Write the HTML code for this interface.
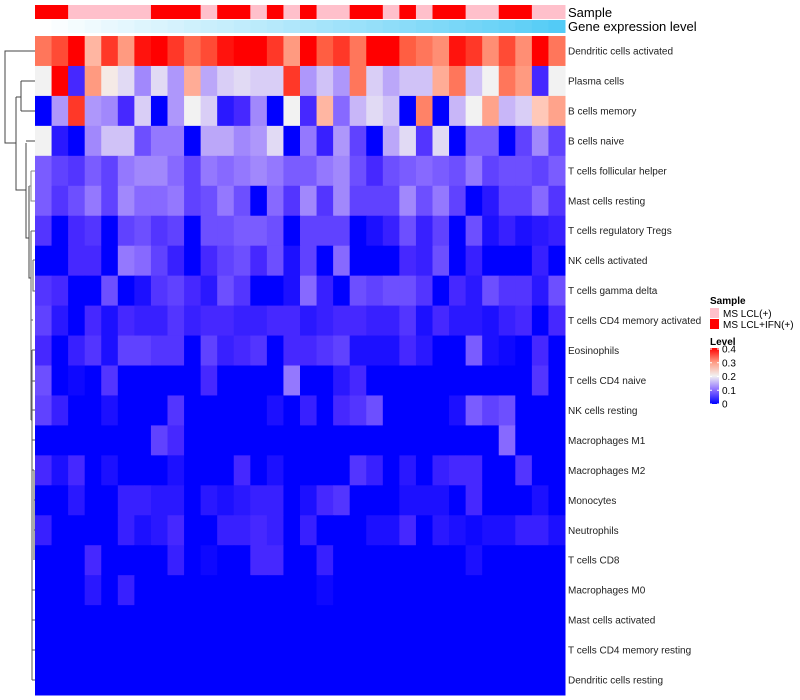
<!DOCTYPE html>
<html><head><meta charset="utf-8"><style>
body{margin:0;background:#fff;}
svg{display:block;font-family:"Liberation Sans",sans-serif;}
</style></head><body>
<svg id="chart" width="800" height="700">
<g id="dendro" fill="none" stroke="#444" stroke-width="1">
<path d="M35,51 H5 V143 H16"/>
<path d="M16,97 V190 H26"/>
<path d="M21,81 H35 M21,111 H35 M21,81 V111 M16,97 H21"/>
<path d="M26,141 H35 M26,143 V238 H29"/>
<path d="M29,186 V278 H31"/>
<path stroke="#888" d="M31,171 H35 M31,171 V201 H35 M31,186 H29"/>
<path stroke="#666" d="M31,278 V420 M31,231 H35 M31,231 V320 H33 M33,260 H35 M33,260 V291 H35"/>
<path stroke="#555" d="M31,420 H32 M32,350 V680 M32,350 H35 M32,381 H35 M32,410 H35 M32,440 H35 M32,470 H34 M34,470 V560 M34,500 H35 M34,530 H35 M32,590 H35 M32,620 H35 M32,650 H35 M32,680 H35"/>
</g>
<g id="samplebar"></g>
<g id="genebar"></g>
<g id="cells"></g>
<g id="rowlabels" font-size="10" fill="#222"></g>
<text x="568" y="17" font-size="13" fill="#000">Sample</text>
<text x="568" y="31" font-size="13" fill="#000">Gene expression level</text>
<g font-size="10">
<text x="710" y="304" font-weight="bold" font-size="10">Sample</text>
<rect x="710" y="308" width="9" height="10" fill="#FFC0CB"/>
<text x="723" y="317">MS LCL(+)</text>
<rect x="710" y="319" width="9" height="10" fill="#FF0000"/>
<text x="723" y="328">MS LCL+IFN(+)</text>
</g>
<g font-size="10">
<defs><linearGradient id="lg" x1="0" y1="1" x2="0" y2="0">
<stop offset="0" stop-color="#0000FF"/><stop offset="0.25" stop-color="#8C6EFF"/><stop offset="0.5" stop-color="#F2F2F2"/><stop offset="0.75" stop-color="#FF9A82"/><stop offset="1" stop-color="#FF0000"/></linearGradient></defs>
<text x="710" y="345" font-weight="bold">Level</text>
<rect x="710" y="348" width="9" height="56" fill="url(#lg)"/>
<g id="legticks"></g>
</g>
</svg>
<script>
const rowNames=["Dendritic cells activated","Plasma cells","B cells memory","B cells naive","T cells follicular helper","Mast cells resting","T cells regulatory  Tregs","NK cells activated","T cells gamma delta","T cells CD4 memory activated","Eosinophils","T cells CD4 naive","NK cells resting","Macrophages M1","Macrophages M2","Monocytes","Neutrophils","T cells CD8","Macrophages M0","Mast cells activated","T cells CD4 memory resting","Dendritic cells resting"];
const sampleGroup=[1,1,0,0,0,0,0,1,1,1,0,1,1,0,1,0,1,0,0,1,1,0,1,0,1,1,0,0,1,1,0,0];
const geneLevel=[0.0,0.03,0.06,0.09,0.12,0.15,0.18,0.2,0.23,0.26,0.29,0.31,0.34,0.37,0.4,0.43,0.46,0.49,0.52,0.55,0.58,0.61,0.64,0.67,0.7,0.73,0.76,0.79,0.82,0.86,0.9,0.94];
const legendTicks=[0,0.1,0.2,0.3,0.4];
const r1=[.33,.36,.4,.27,.37,.3,.39,.4,.37,.34,.36,.39,.4,.4,.37,.3,.4,.35,.37,.33,.4,.4,.35,.33,.31,.39,.37,.31,.36,.31,.4,.33];
const r2=[.2,.4,.05,.3,.21,.18,.12,.18,.13,.28,.14,.17,.18,.17,.17,.37,.13,.16,.13,.33,.17,.14,.16,.16,.28,.33,.16,.2,.33,.3,.05,.2];
const r3=[0,.13,.37,.13,.12,.05,.17,0,.13,.2,.17,.03,.05,.12,0,.2,.05,.27,.1,.15,.18,.16,0,.32,0,.15,.2,.29,.15,.17,.25,.29];
const r4=[.2,.03,0,.12,.16,.16,.08,.11,.11,0,.14,.14,.12,.13,.18,0,.11,.04,.13,.07,0,.14,.18,.06,.18,0,.09,.09,0,.07,.12,.07];
const r5=[.09,.07,.06,.09,.07,.11,.12,.12,.1,.07,.11,.1,.11,.12,.11,.09,.09,.11,.12,.08,.05,.08,.09,.1,.09,.08,.11,.07,.08,.08,.07,.09];
const r6=[.09,.06,.08,.11,.07,.12,.1,.1,.11,.07,.08,.11,.08,0,.1,.06,.12,.06,.12,.07,.07,.07,.12,.08,.11,.07,0,.03,.07,.07,.1,.06];
const r7=[.06,0,.05,.06,0,.07,.08,.06,.07,0,.08,.08,.09,.09,.08,0,.07,.07,.07,0,.02,.04,.08,.04,.07,0,.08,.02,.04,.02,.03,.04];
const r8=[0,0,.05,.05,0,.11,.1,.07,.04,0,.05,.07,.08,.05,.08,.02,.07,0,.1,0,0,0,.05,.04,.08,0,.04,0,0,0,.04,0];
const r9=[.06,.05,0,0,.08,0,.02,.06,.07,.05,.03,.08,.06,0,0,.02,.1,.04,0,.08,.07,.08,.08,.06,0,.05,.03,.08,.06,.06,.03,.08];
const r10=[.07,.03,0,.05,.02,.05,.04,.04,.06,.04,.05,.05,.04,.04,.05,.05,.03,.04,.05,.05,.04,.04,.06,.02,.05,.03,.03,.02,.04,.05,0,.05];
const r11=[.05,0,.04,.06,.02,.07,.07,.06,.06,0,.07,.04,.05,.06,0,.05,.05,.06,.07,.02,.02,.02,.05,.03,0,0,.09,.02,.01,0,.05,0];
const r12=[.08,0,.01,0,.06,0,0,0,0,0,.05,0,0,0,0,.11,0,0,.03,.05,0,0,0,0,0,0,0,0,0,0,.06,0];
const r13=[.07,.04,0,0,.02,0,0,0,.06,0,0,0,0,0,.02,0,.04,0,.05,.06,.08,0,0,0,0,.02,.09,.07,.08,0,0,0];
const r14=[0,0,0,0,0,0,0,.07,.05,0,0,0,0,0,0,0,0,0,0,0,0,0,0,0,0,0,0,0,.1,0,0,0];
const r15=[.05,.02,.05,0,.02,0,0,0,.02,0,0,0,.05,0,.02,0,0,0,0,.06,.04,0,.03,0,.04,.05,.05,0,0,.06,0,0];
const r16=[0,0,.03,0,0,.04,.04,.03,.03,0,.03,.02,.03,.04,.04,0,.02,.05,.06,0,0,0,.02,.02,.02,0,.05,0,0,0,.02,0];
const r17=[.04,0,0,0,0,.04,.02,.03,.05,0,0,.04,.04,.05,.04,0,.04,0,0,0,.02,.02,.05,0,.03,.02,.01,.02,.02,.04,.04,.02];
const r18=[0,0,0,.05,0,0,0,0,.04,0,.01,0,0,.05,.05,0,0,.04,0,0,0,0,0,0,0,0,.02,0,0,0,0,0];
const r19=[0,0,0,.03,0,.04,0,0,0,0,0,0,0,0,0,0,0,.01,0,0,0,0,0,0,0,0,0,0,0,0,0,0];
const r20=[0,0,0,0,0,0,0,0,0,0,0,0,0,0,0,0,0,0,0,0,0,0,0,0,0,0,0,0,0,0,0,0];
const r21=[0,0,0,0,0,0,0,0,0,0,0,0,0,0,0,0,0,0,0,0,0,0,0,0,0,0,0,0,0,0,0,0];
const r22=[0,0,0,0,0,0,0,0,0,0,0,0,0,0,0,0,0,0,0,0,0,0,0,0,0,0,0,0,0,0,0,0];
const matrix=[r1,r2,r3,r4,r5,r6,r7,r8,r9,r10,r11,r12,r13,r14,r15,r16,r17,r18,r19,r20,r21,r22];

const NS="http://www.w3.org/2000/svg";
const X0=35,X1=565,Y0=36,Y1=695;
const nCol=sampleGroup.length,nRow=rowNames.length;
const cw=(X1-X0)/nCol,rh=(Y1-Y0)/nRow;
const xPos=i=>X0+i*cw, yPos=j=>Y0+j*rh;
function mix(a,b,t){return a.map((v,i)=>Math.round(v+(b[i]-v)*t));}
const stops=[[0,[0,0,255]],[0.05,[70,40,255]],[0.1,[135,105,255]],[0.15,[200,182,248]],[0.2,[242,242,242]],[0.25,[255,200,184]],[0.3,[255,154,128]],[0.35,[255,94,66]],[0.4,[255,0,0]]];
function col(v){v=Math.max(0,Math.min(0.4,v));for(let k=0;k<stops.length-1;k++){const [a,ca]=stops[k],[b,cb]=stops[k+1];if(v<=b){const c=mix(ca,cb,(v-a)/(b-a));return `rgb(${c})`;}}return "rgb(255,0,0)";}
function mk(tag,attrs,parent){const e=document.createElementNS(NS,tag);for(const k in attrs)e.setAttribute(k,attrs[k]);parent.appendChild(e);return e;}
const cells=document.getElementById('cells');
matrix.forEach((row,j)=>row.forEach((v,i)=>{
 const r=mk('rect',{x:xPos(i),y:yPos(j),width:cw+0.5,height:rh+0.5,fill:col(v)},cells);
 
 
}));
const sb=document.getElementById('samplebar');
sampleGroup.forEach((g,i)=>{
 const r=mk('rect',{x:xPos(i),y:5,width:cw+0.5,height:14,fill:g?'#FF0000':'#FFC0CB'},sb);
 
 
});
const gb=document.getElementById('genebar');
geneLevel.forEach((g,i)=>{
 const c=mix([255,255,255],[72,200,245],g);
 const r=mk('rect',{x:xPos(i),y:20,width:cw+0.5,height:13,fill:`rgb(${c})`},gb);
 
 
});
const rl=document.getElementById('rowlabels');
rowNames.forEach((n,j)=>{
 const t=mk('text',{x:568,y:yPos(j)+rh/2+3.5},rl);
 t.textContent=n;
 
 
});
const lt=document.getElementById('legticks');
legendTicks.forEach(v=>{
 const y=404-(v/0.4)*55;
 mk('line',{x1:710,x2:712,y1:y,y2:y,stroke:'#fff'},lt);
 mk('line',{x1:717,x2:719,y1:y,y2:y,stroke:'#fff'},lt);
 const t=mk('text',{x:722,y:y+3.5},lt);
 t.textContent=String(v);
 
 
});
</script>
</body></html>
